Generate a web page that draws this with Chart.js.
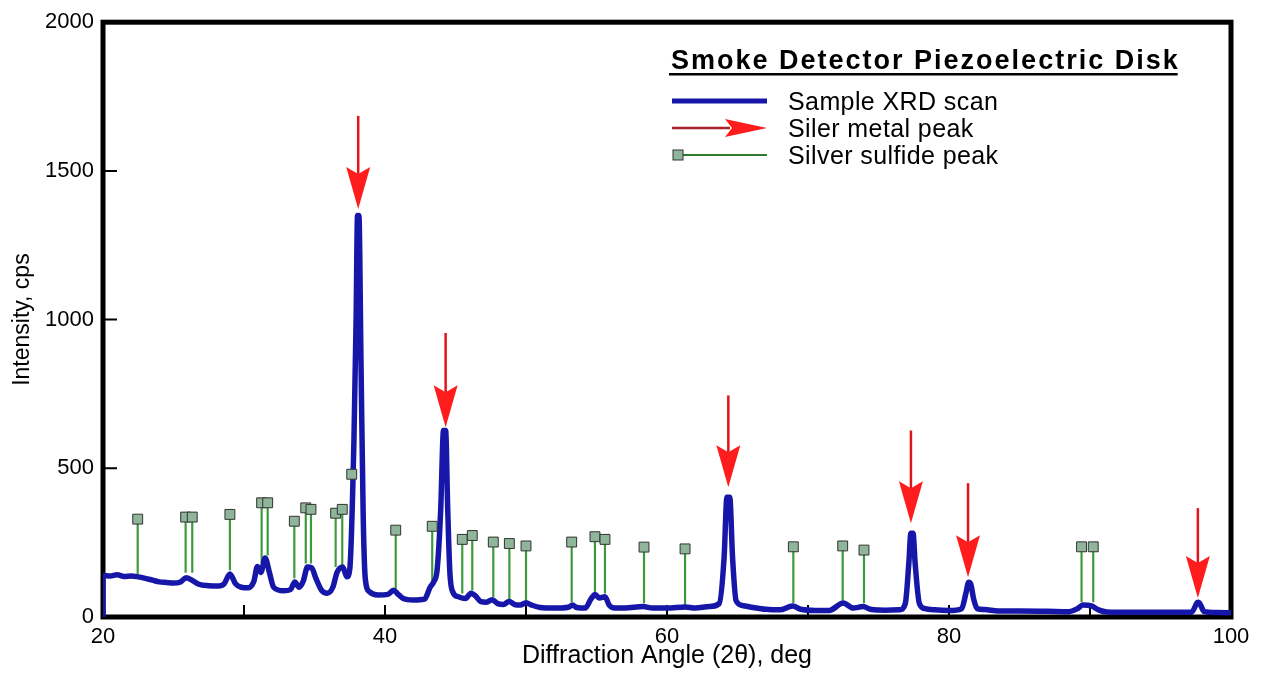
<!DOCTYPE html>
<html>
<head>
<meta charset="utf-8">
<title>Smoke Detector Piezoelectric Disk</title>
<script src="https://cdn.jsdelivr.net/npm/chart.js@4.4.1/dist/chart.umd.min.js"></script>
<style>
  html, body { margin: 0; padding: 0; background: #fff; }
  canvas { display: block; }
</style>
</head>
<body>
<canvas id="xrd" width="1261" height="677"></canvas>
<script>
// XRD scan (2-theta in deg, intensity in cps)
const scanX = [20, 20, 20.5, 21, 21.5, 22, 22.5, 23, 23.5, 24, 24.5, 25, 25.5, 25.9, 26.3, 26.8,
  27.5, 28.2, 28.6, 29, 29.4, 29.8, 30.3, 30.7, 30.95, 31.2, 31.5, 31.8, 32.1, 32.8, 33.3, 33.6,
  33.9, 34.2, 34.5, 34.8, 35.1, 35.5, 35.9, 36.3, 36.6, 37, 37.3, 37.5, 37.8, 37.95, 38.05, 38.15,
  38.3, 38.45, 38.6, 38.9, 39.5, 40.2, 40.6, 40.9, 41.3, 42, 42.8, 43.2, 43.45, 43.7, 43.95, 44.15,
  44.3, 44.45, 44.6, 44.8, 45.2, 45.7, 46.1, 46.4, 46.8, 47.2, 47.6, 48, 48.4, 48.8, 49.2, 49.6,
  50, 50.4, 51, 52, 53, 53.3, 53.6, 54.2, 54.6, 54.9, 55.2, 55.6, 55.9, 56.3, 57, 58.3,
  59, 60, 61.3, 62, 63, 63.7, 64.05, 64.25, 64.45, 64.65, 64.9, 65.4, 66, 67, 68, 68.9,
  69.5, 70.5, 71.5, 72.5, 73.2, 73.9, 74.5, 75.5, 76.5, 76.9, 77.15, 77.3, 77.45, 77.6, 77.9, 78.3,
  79, 80, 80.9, 81.2, 81.4, 81.55, 81.75, 82, 82.5, 83.5, 85, 87, 88.5, 89.1, 89.5, 90.1,
  90.6, 91.2, 93, 95, 97.2, 97.6, 97.7, 98.1, 99, 100];
const scanY = [0, 140, 138, 142, 136, 138, 135, 130, 124, 118, 116, 114, 118, 132, 124, 110,
  105, 104, 112, 145, 112, 100, 98, 120, 170, 150, 198, 150, 100, 88, 92, 118,
  100, 120, 168, 165, 130, 90, 80, 100, 150, 168, 135, 160, 600, 1000, 1350, 1350,
  850, 350, 130, 85, 74, 76, 90, 78, 62, 57, 60, 100, 118, 160, 360, 627,
  627, 360, 150, 85, 68, 62, 80, 72, 52, 50, 58, 45, 42, 52, 42, 40,
  48, 40, 32, 30, 33, 40, 32, 30, 60, 76, 64, 68, 40, 30, 30, 35,
  30, 30, 34, 30, 35, 45, 200, 403, 403, 200, 55, 38, 33, 26, 24, 37,
  26, 22, 22, 47, 30, 35, 25, 23, 24, 45, 180, 282, 282, 180, 45, 28,
  24, 22, 28, 80, 117, 110, 60, 28, 25, 20, 20, 19, 18, 28, 40, 37,
  24, 17, 16, 16, 16, 48, 50, 18, 15, 14];

// silver metal peaks (red arrows): position, tail value, tip value
const silverX = [38.1, 44.3, 64.35, 77.3, 81.35, 97.65];
const arrowTop = [1685, 955, 745, 627, 450, 366];
const arrowTip = [1372, 638, 436, 315, 134, 64];

// silver sulfide peaks (green sticks): position, marker value, stick foot value
const sulfideX = [22.46, 25.86, 26.33, 29.0, 31.25, 31.68, 33.57, 34.38, 34.75, 36.5, 36.97, 37.64,
  40.76, 43.35, 45.48, 46.19, 47.68, 48.82, 50.0, 53.24, 54.89, 55.6, 58.37, 61.28, 68.96, 72.46,
  73.97, 89.4, 90.23];
const sulfideTop = [329, 336, 336, 345, 384, 384, 322, 367, 362, 349, 362, 480,
  292, 305, 261, 274, 252, 247, 239, 252, 270, 261, 235, 229, 236, 239,
  225, 236, 236];
const sulfideBase = [145, 150, 150, 158, 181, 208, 131, 181, 181, 169, 174, 300,
  90, 124, 80, 90, 68, 57, 51, 51, 85, 80, 47, 40, 47, 57,
  47, 51, 51];

// axis ticks
const xTicks = [20, 30, 40, 50, 60, 70, 80, 90, 100];
const xLabels = [20, 40, 60, 80, 100];
const yTicks = [0, 500, 1000, 1500, 2000];

const chartTitle = 'Smoke Detector Piezoelectric Disk';
const legendItems = ['Sample XRD scan', 'Siler metal peak', 'Silver sulfide peak'];

const FONT = "'Liberation Sans', Arial, Helvetica, sans-serif";
const BLUE = '#1616a8';
const RED = '#ff1c1c';
const TAIL_RED = '#e0141c';
const GREEN = '#3a9a3a';
const SQUARE = '#8fb59a';

function arrowDown(ctx, px, top, tip) {
    const headLen = 42, half = 12, notch = 7;
    ctx.save();
    ctx.strokeStyle = TAIL_RED;
    ctx.lineWidth = 2.5;
    ctx.beginPath();
    ctx.moveTo(px, top);
    ctx.lineTo(px, tip - headLen + notch);
    ctx.stroke();
    ctx.fillStyle = RED;
    ctx.beginPath();
    ctx.moveTo(px, tip);
    ctx.lineTo(px - half, tip - headLen);
    ctx.lineTo(px, tip - headLen + notch);
    ctx.lineTo(px + half, tip - headLen);
    ctx.closePath();
    ctx.fill();
    ctx.restore();
}

const xrdDecor = {
    id: 'xrdDecor',
    beforeDatasetsDraw(chart) {
        const {ctx, chartArea: a, scales: {x, y}} = chart;
        ctx.save();
        ctx.strokeStyle = '#000';
        // frame
        ctx.lineWidth = 5;
        ctx.strokeRect(a.left, a.top, a.right - a.left, a.bottom - a.top);
        // inward tick marks
        ctx.lineWidth = 2;
        ctx.beginPath();
        xTicks.slice(1, -1).forEach(v => {
            const px = x.getPixelForValue(v);
            ctx.moveTo(px, a.bottom);
            ctx.lineTo(px, a.bottom - 12);
        });
        yTicks.slice(1, -1).forEach(v => {
            const py = y.getPixelForValue(v);
            ctx.moveTo(a.left, py);
            ctx.lineTo(a.left + 14, py);
        });
        ctx.stroke();
        ctx.restore();
    },
    afterDatasetsDraw(chart) {
        const {ctx, scales: {x, y}} = chart;
        silverX.forEach((v, i) => {
            arrowDown(ctx, x.getPixelForValue(v), y.getPixelForValue(arrowTop[i]), y.getPixelForValue(arrowTip[i]));
        });

        // title + legend
        ctx.save();
        ctx.fillStyle = '#000';
        ctx.textBaseline = 'alphabetic';
        ctx.font = 'bold 27px ' + FONT;
        ctx.letterSpacing = '2px';
        ctx.fillText(chartTitle, 671, 69);
        const tw = ctx.measureText(chartTitle).width;
        ctx.fillRect(669, 73, tw, 2.5);
        ctx.letterSpacing = '0.4px';

        ctx.font = '25px ' + FONT;
        const rows = [101, 128, 155];
        legendItems.forEach((t, i) => ctx.fillText(t, 788, rows[i] + 9));

        // scan line sample
        ctx.strokeStyle = BLUE;
        ctx.lineWidth = 5;
        ctx.beginPath();
        ctx.moveTo(672, rows[0]);
        ctx.lineTo(767, rows[0]);
        ctx.stroke();

        // arrow sample
        ctx.strokeStyle = '#a8202c';
        ctx.lineWidth = 2.5;
        ctx.beginPath();
        ctx.moveTo(672, rows[1]);
        ctx.lineTo(730, rows[1]);
        ctx.stroke();
        ctx.fillStyle = RED;
        ctx.beginPath();
        ctx.moveTo(767, rows[1]);
        ctx.lineTo(725, rows[1] - 9);
        ctx.lineTo(732, rows[1]);
        ctx.lineTo(725, rows[1] + 9);
        ctx.closePath();
        ctx.fill();

        // stick sample
        ctx.strokeStyle = '#2f7a2f';
        ctx.lineWidth = 2;
        ctx.beginPath();
        ctx.moveTo(683, rows[2]);
        ctx.lineTo(767, rows[2]);
        ctx.stroke();
        ctx.fillStyle = SQUARE;
        ctx.strokeStyle = '#333';
        ctx.lineWidth = 1;
        ctx.fillRect(673, rows[2] - 5, 10, 10);
        ctx.strokeRect(673, rows[2] - 5, 10, 10);
        ctx.restore();
    }
};

new Chart(document.getElementById('xrd'), {
    type: 'scatter',
    data: {
        datasets: [
            {
                type: 'bar',
                label: 'Silver sulfide sticks',
                data: sulfideX.map((v, i) => ({x: v, y: [sulfideBase[i], sulfideTop[i]]})),
                backgroundColor: GREEN,
                barThickness: 1.5,
                order: 3
            },
            {
                type: 'line',
                label: 'Sample XRD scan',
                data: scanX.map((v, i) => ({x: v, y: scanY[i]})),
                borderColor: BLUE,
                borderWidth: 5.5,
                pointRadius: 0,
                cubicInterpolationMode: 'monotone',
                borderJoinStyle: 'round',
                fill: false,
                order: 2
            },
            {
                type: 'scatter',
                label: 'Silver sulfide peak',
                data: sulfideX.map((v, i) => ({x: v, y: sulfideTop[i]})),
                pointStyle: 'rect',
                pointRadius: 7,
                backgroundColor: SQUARE,
                borderColor: '#333',
                borderWidth: 1,
                order: 1
            }
        ]
    },
    options: {
        responsive: false,
        animation: false,
        events: [],
        layout: {padding: {top: 21, right: 30, left: 0, bottom: 0}},
        plugins: {legend: {display: false}, tooltip: {enabled: false}},
        scales: {
            x: {
                type: 'linear',
                min: 20,
                max: 100,
                offset: false,
                afterBuildTicks: s => { s.ticks = xLabels.map(v => ({value: v})); },
                afterFit: s => { s.height = 60; },
                grid: {display: false, drawTicks: false},
                border: {display: false},
                ticks: {color: '#000', font: {family: FONT, size: 22}, padding: 7, maxRotation: 0,
                        autoSkip: false, callback: v => String(v)},
                title: {display: true, text: 'Diffraction Angle (2θ), deg', color: '#000',
                        font: {family: FONT, size: 25}, padding: {top: 0, bottom: 6}}
            },
            y: {
                min: 0,
                max: 2000,
                afterBuildTicks: s => { s.ticks = yTicks.map(v => ({value: v})); },
                afterFit: s => { s.width = 103; },
                grid: {display: false, drawTicks: false},
                border: {display: false},
                ticks: {color: '#000', font: {family: FONT, size: 22}, padding: 9, callback: v => String(v)},
                title: {display: true, text: 'Intensity, cps', color: '#000',
                        font: {family: FONT, size: 23}, padding: {top: 9, bottom: 0}}
            }
        }
    },
    plugins: [xrdDecor]
});
</script>
</body>
</html>
